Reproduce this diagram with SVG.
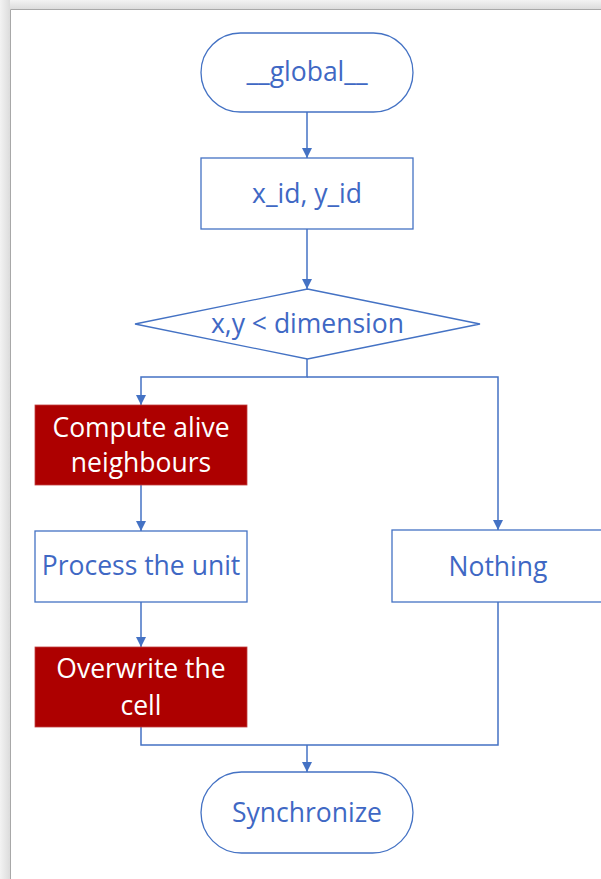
<svg xmlns="http://www.w3.org/2000/svg" width="601" height="879" viewBox="0 0 601 879">
  <defs>
    <linearGradient id="shadeTop" x1="0" y1="0" x2="0" y2="1">
      <stop offset="0" stop-color="#f3f3f3"/>
      <stop offset="1" stop-color="#dcdcdc"/>
    </linearGradient>
    <linearGradient id="shadeLeft" x1="0" y1="0" x2="1" y2="0">
      <stop offset="0" stop-color="#f3f3f3"/>
      <stop offset="1" stop-color="#dcdcdc"/>
    </linearGradient>
    <marker id="arrow" viewBox="0 0 10 10" refX="10" refY="5" markerWidth="10" markerHeight="10" markerUnits="userSpaceOnUse" orient="auto">
      <path d="M0,0 L10,5 L0,10 Z" fill="#4472C4"/>
    </marker>
    <style>
      .shape { fill: #ffffff; stroke: #4472C4; stroke-width: 1.3; }
      .hot { fill: #AD0000; stroke: #C04040; stroke-width: 0.8; }
      .label { font-family: "Open Sans", "Noto Sans", sans-serif; font-size: 26.5px; font-weight: 500; fill: #3F68C4; text-anchor: middle; }
      .hotlabel { font-family: "Open Sans", "Noto Sans", sans-serif; font-size: 26.5px; font-weight: 500; fill: #ffffff; text-anchor: middle; }
      .wire { fill: none; stroke: #4472C4; stroke-width: 1.5; }
    </style>
  </defs>

  <!-- page background and frame -->
  <rect x="0" y="0" width="601" height="879" fill="#ffffff"/>
  <rect x="0" y="0" width="601" height="9" fill="url(#shadeTop)"/>
  <rect x="0" y="0" width="10" height="879" fill="url(#shadeLeft)"/>
  <path d="M10.5,879 V9.5 H601" fill="none" stroke="#a8a8a8" stroke-width="1"/>

  <!-- connectors -->
  <g id="connectors">
    <path class="wire" d="M307,112 V158" marker-end="url(#arrow)"/>
    <path class="wire" d="M307,229 V289" marker-end="url(#arrow)"/>
    <path class="wire" d="M307,359 V377 H141 V405" marker-end="url(#arrow)"/>
    <path class="wire" d="M307,377 H498 V530" marker-end="url(#arrow)"/>
    <path class="wire" d="M141,485 V531" marker-end="url(#arrow)"/>
    <path class="wire" d="M141,602 V647" marker-end="url(#arrow)"/>
    <path class="wire" d="M141,727 V745 H498 V602"/>
    <path class="wire" d="M307,745 V772" marker-end="url(#arrow)"/>
  </g>

  <g id="start">
    <rect class="shape" x="201" y="33" width="212" height="79" rx="39.5" ry="39.5"/>
    <text class="label" x="307" y="81">__global__</text>
  </g>

  <g id="ids">
    <rect class="shape" x="201" y="158" width="212" height="71"/>
    <text class="label" x="307" y="203">x_id, y_id</text>
  </g>

  <g id="bounds">
    <polygon class="shape" points="307.5,289 480,324 307.5,359 135,324"/>
    <text class="label" x="307.5" y="333">x,y &lt; dimension</text>
  </g>

  <g id="neighbours">
    <rect class="hot" x="35" y="405" width="212" height="80"/>
    <text class="hotlabel" x="141" y="437">Compute alive</text>
    <text class="hotlabel" x="141" y="472">neighbours</text>
  </g>

  <g id="process">
    <rect class="shape" x="35" y="531" width="212" height="71"/>
    <text class="label" x="141" y="575">Process the unit</text>
  </g>

  <g id="overwrite">
    <rect class="hot" x="35" y="647" width="212" height="80"/>
    <text class="hotlabel" x="141" y="678">Overwrite the</text>
    <text class="hotlabel" x="141" y="715">cell</text>
  </g>

  <g id="nothing">
    <rect class="shape" x="392" y="530" width="212" height="72"/>
    <text class="label" x="498" y="576">Nothing</text>
  </g>

  <g id="sync">
    <rect class="shape" x="201" y="772" width="212" height="81" rx="40.5" ry="40.5"/>
    <text class="label" x="307" y="822">Synchronize</text>
  </g>
</svg>
